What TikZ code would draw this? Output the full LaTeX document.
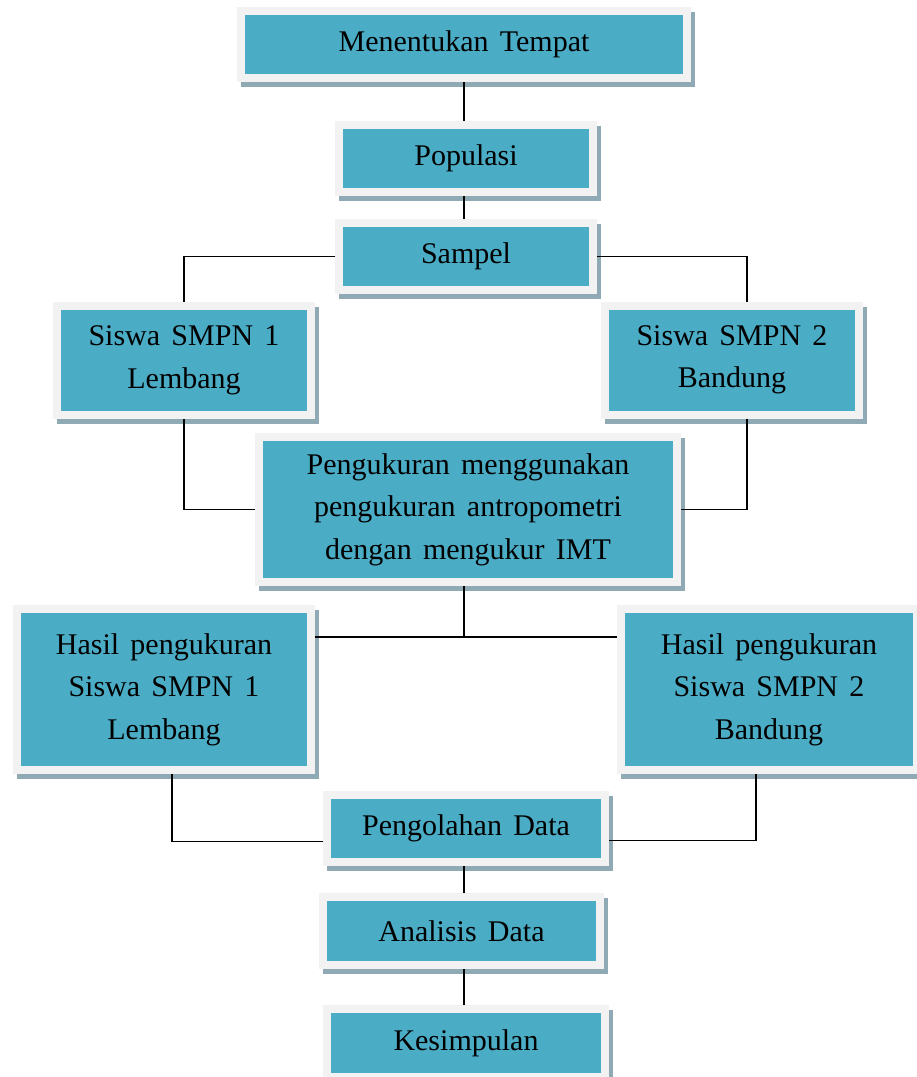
\documentclass[tikz,border=0pt]{standalone}
\usepackage{fontspec}
\setmainfont{Liberation Serif}[WordSpace=1.5]
\definecolor{boxteal}{HTML}{4BACC6}
\definecolor{boxframe}{HTML}{F2F2F2}
\definecolor{boxshade}{HTML}{8FA9B5}

\begin{document}
\begin{tikzpicture}[
    x=1pt, y=-1pt,
    box/.style={rectangle, draw=boxframe, line width=8pt, fill=boxteal,
        inner sep=2pt, align=center, font=\fontsize{30}{42.5}\selectfont,
        preaction={draw=boxshade, fill=boxshade, line width=8pt,
            transform canvas={shift={(4pt,-5pt)}}}},
    link/.style={draw=black, line width=1.8pt}
]
    \useasboundingbox (0,0) rectangle (917,1077);

    % Boxes
    \node[box, minimum width=446pt, minimum height=67pt] (tempat) at (464,44.5) {Menentukan Tempat};
    \node[box, minimum width=254pt, minimum height=67pt] (populasi) at (466,158.5) {Populasi};
    \node[box, minimum width=254pt, minimum height=67pt] (sampel) at (466,256.5) {Sampel};
    \node[box, minimum width=254pt, minimum height=109pt] (smpn1) at (184,360.5) {Siswa SMPN 1\\Lembang};
    \node[box, minimum width=254pt, minimum height=109pt] (smpn2) at (732,360) {Siswa SMPN 2\\Bandung};
    \node[box, minimum width=418pt, minimum height=145pt] (ukur) at (468,509.5) {Pengukuran menggunakan\\pengukuran antropometri\\dengan mengukur IMT};
    \node[box, minimum width=294pt, minimum height=161pt] (hasil1) at (164,689.5) {Hasil pengukuran\\Siswa SMPN 1\\Lembang};
    \node[box, minimum width=296pt, minimum height=161pt] (hasil2) at (769,689.5) {Hasil pengukuran\\Siswa SMPN 2\\Bandung};
    \node[box, minimum width=278pt, minimum height=67pt] (olah) at (466,828.5) {Pengolahan Data};
    \node[box, minimum width=277pt, minimum height=68pt] (analisis) at (461.5,931) {Analisis Data};
    \node[box, minimum width=278pt, minimum height=68pt] (simpul) at (466,1043) {Kesimpulan};

    % Junction under the measuring box
    \coordinate (cabang) at (464,637);

    % Connectors
    \draw[link] (tempat.south) -- (tempat.south |- populasi.north);
    \draw[link] (tempat.south |- populasi.south) -- (tempat.south |- sampel.north);
    \draw[link] (sampel.west) -| (smpn1.north);
    \draw[link] (sampel.east) -| ([xshift=15pt]smpn2.north);
    \draw[link] (smpn1.south) |- (ukur.west);
    \draw[link] ([xshift=15pt]smpn2.south) |- (ukur.east);
    \draw[link] (cabang |- ukur.south) -- (cabang);
    \draw[link] (hasil1.east |- cabang) -- (hasil2.west |- cabang);
    \draw[link] ([xshift=8pt]hasil1.south) |- ([yshift=-13pt]olah.west);
    \draw[link] ([xshift=-13pt]hasil2.south) |- ([yshift=-12pt]olah.east);
    \draw[link] (cabang |- olah.south) -- (cabang |- analisis.north);
    \draw[link] (cabang |- analisis.south) -- (cabang |- simpul.north);

\end{tikzpicture}
\end{document}
